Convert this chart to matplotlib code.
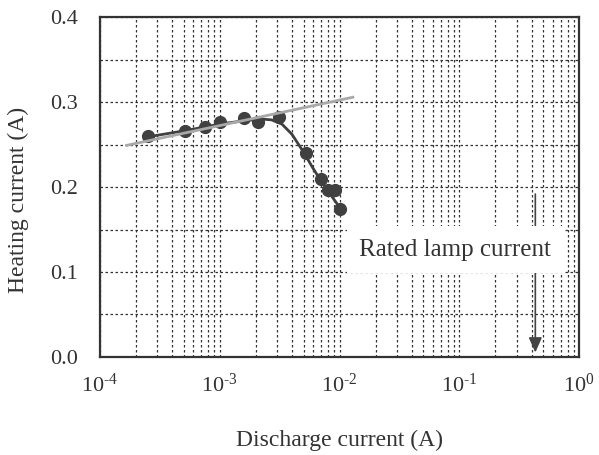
import matplotlib
matplotlib.use("Agg")
import matplotlib.pyplot as plt
from matplotlib.ticker import FixedLocator, NullFormatter

plt.rcParams['font.family'] = ['Liberation Serif', 'DejaVu Serif']
plt.rcParams['mathtext.fontset'] = 'custom'
plt.rcParams['mathtext.rm'] = 'Liberation Serif'
plt.rcParams['mathtext.it'] = 'Liberation Serif'

# measured points
discharge = [2.53e-4, 5.1e-4, 7.5e-4, 1.0e-3, 1.58e-3, 2.08e-3, 3.12e-3,
             5.2e-3, 7.0e-3, 8.0e-3, 9.1e-3, 1.01e-2]
heating = [0.260, 0.266, 0.271, 0.276, 0.281, 0.2765, 0.282,
           0.240, 0.209, 0.196, 0.196, 0.174]

# dark fitted curve
curve_x = [2.5e-4, 5e-4, 1e-3, 1.6e-3, 2.2e-3, 2.7e-3, 3.3e-3, 4.0e-3,
           5.0e-3, 6.0e-3, 7.0e-3, 8.5e-3, 1.0e-2]
curve_y = [0.259, 0.266, 0.274, 0.278, 0.280, 0.279, 0.274, 0.262,
           0.241, 0.222, 0.207, 0.190, 0.176]

# gray trend line
trend_x = [1.67e-4, 1.29e-2]
trend_y = [0.249, 0.3056]

# rated lamp current arrow and label
rated_x = 0.43
rated_top = 0.195
rated_bottom = 0.0
rated_label = 'Rated lamp current'
rated_label_x = 0.092
rated_label_y = 0.126

x_ticks = [1e-4, 1e-3, 1e-2, 1e-1, 1e0]
x_labels = [r'10$^{\text{-4}}$', r'10$^{\text{-3}}$', r'10$^{\text{-2}}$',
            r'10$^{\text{-1}}$', r'10$^{\text{0}}$']
y_ticks = [0.0, 0.1, 0.2, 0.3, 0.4]
y_labels = ['0.0', '0.1', '0.2', '0.3', '0.4']

fig = plt.figure(figsize=(5.99, 4.55), dpi=100)
ax = fig.add_axes([0.167, 0.2154, 0.8, 0.7472])
ax.set_xscale('log')
ax.set_xlim(1e-4, 1e0)
ax.set_ylim(0.0, 0.4)

ax.xaxis.set_major_locator(FixedLocator(x_ticks))
minors = [m * d for d in [1e-4, 1e-3, 1e-2, 1e-1] for m in range(2, 10)]
ax.xaxis.set_minor_locator(FixedLocator(minors))
ax.xaxis.set_minor_formatter(NullFormatter())
ax.set_xticklabels(x_labels)
ax.set_yticks(y_ticks)
ax.set_yticks([0.05, 0.15, 0.25, 0.35], minor=True)
ax.set_yticklabels(y_labels)

ax.grid(True, which='both', axis='both', color='#333333', linestyle=(0, (2, 2)), linewidth=0.9)
ax.set_axisbelow(True)

ax.tick_params(which='both', length=0, labelsize=16, colors='#333333')
ax.tick_params(axis='x', pad=12)
ax.tick_params(axis='y', pad=16)
for s in ax.spines.values():
    s.set_linewidth(1.6)
    s.set_color('#333333')

ax.annotate('', xy=(rated_x, rated_bottom + 0.002), xytext=(rated_x, rated_top),
            arrowprops=dict(arrowstyle='-|>,head_length=0.9,head_width=0.4',
                            color='#444444', lw=1.2), zorder=2)
ax.text(rated_label_x, rated_label_y, rated_label,
        ha='center', va='center', fontsize=18, color='#333333', zorder=5,
        bbox=dict(boxstyle='square,pad=0.5', facecolor='white', edgecolor='none'))

ax.plot(discharge, heating, 'o', color='#404040', markersize=8.5, zorder=3)
ax.plot(curve_x, curve_y, '-', color='#404040', linewidth=2, zorder=3)
ax.plot(trend_x, trend_y, '-', color='#a8a8a8', linewidth=2, zorder=4)

ax.set_xlabel('Discharge current (A)', fontsize=17, color='#333333', labelpad=24)
ax.set_ylabel('Heating current (A)', fontsize=17, color='#333333')
ax.yaxis.set_label_coords(-0.148, 0.462)

fig.savefig('out.png', dpi=100)
